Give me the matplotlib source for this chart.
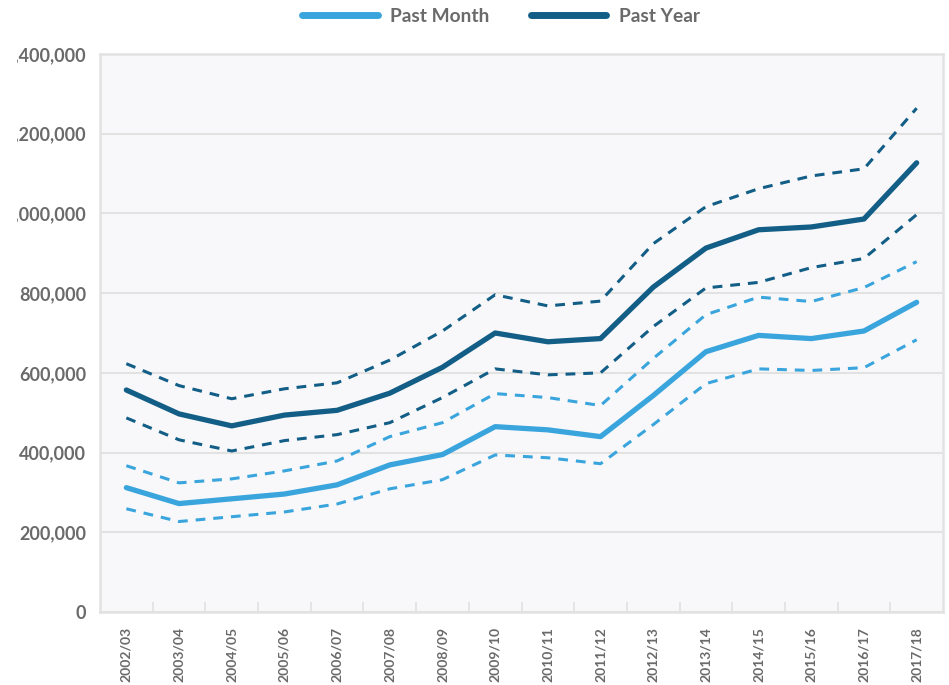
import matplotlib
matplotlib.use("Agg")
import matplotlib.pyplot as plt
from matplotlib.lines import Line2D
from matplotlib.ticker import FuncFormatter, FixedLocator
from matplotlib.transforms import Bbox, TransformedBbox
import numpy as np

years = ["2002/03", "2003/04", "2004/05", "2005/06", "2006/07", "2007/08", "2008/09",
         "2009/10", "2010/11", "2011/12", "2012/13", "2013/14", "2014/15", "2015/16",
         "2016/17", "2017/18"]

past_year = [557000, 497000, 467000, 494000, 506000, 549000, 614000, 700000, 678000,
             686000, 815000, 913000, 959000, 966000, 986000, 1127000]
past_year_upper = [623000, 568000, 535000, 560000, 575000, 632000, 705000, 796000, 768000,
                   780000, 924000, 1017000, 1062000, 1094000, 1112000, 1264000]
past_year_lower = [487000, 432000, 404000, 430000, 445000, 475000, 538000, 610000, 595000,
                   600000, 716000, 813000, 827000, 864000, 887000, 997000]

past_month = [312000, 272000, 284000, 296000, 319000, 369000, 395000, 465000, 457000,
              440000, 543000, 653000, 694000, 686000, 705000, 777000]
past_month_upper = [367000, 324000, 334000, 354000, 379000, 440000, 475000, 548000, 538000,
                    518000, 636000, 746000, 790000, 779000, 814000, 879000]
past_month_lower = [259000, 227000, 239000, 251000, 271000, 309000, 332000, 394000, 387000,
                    372000, 470000, 573000, 610000, 606000, 613000, 683000]

y_ticks = [0, 200000, 400000, 600000, 800000, 1000000, 1200000, 1400000]

light = "#3aa5dd"
dark = "#135e86"
grid_c = "#e2e2e2"
text_c = "#6a6a6a"
font = ["Lato", "DejaVu Sans"]

plt.rcParams["font.family"] = font

fig = plt.figure(figsize=(9.49, 6.85), dpi=100)
ax = fig.add_axes([100 / 949, 1 - 612 / 685, 843 / 949, (612 - 54) / 685])
ax.set_facecolor("#f8f8fa")

x = np.arange(len(years))

ax.plot(x, past_month_upper, color=light, lw=2.2, ls=(0, (3.2, 2.6)), zorder=3)
ax.plot(x, past_month_lower, color=light, lw=2.2, ls=(0, (3.2, 2.6)), zorder=3)
ax.plot(x, past_year_upper, color=dark, lw=2.2, ls=(0, (3.2, 2.6)), zorder=3)
ax.plot(x, past_year_lower, color=dark, lw=2.2, ls=(0, (3.2, 2.6)), zorder=3)
ax.plot(x, past_month, color=light, lw=3.8, solid_capstyle="round", solid_joinstyle="round", zorder=4)
ax.plot(x, past_year, color=dark, lw=3.8, solid_capstyle="round", solid_joinstyle="round", zorder=4)

ax.set_xlim(-0.5, len(years) - 0.5)
ax.set_ylim(0, 1400000)

ax.set_yticks(y_ticks)
ax.yaxis.set_major_formatter(FuncFormatter(lambda v, p: f"{int(v):,}"))
ax.set_xticks(x)
ax.set_xticklabels(years, rotation=90)
ax.xaxis.set_minor_locator(FixedLocator(np.arange(0.5, len(years) - 0.5, 1)))

ax.tick_params(axis="x", which="major", length=0, pad=11, labelsize=10, labelcolor=text_c)
ax.tick_params(axis="x", which="minor", direction="in", length=7.5, width=1.3, color=grid_c)
ax.tick_params(axis="y", which="major", length=0, pad=10, labelsize=13.0, labelcolor=text_c)

clip = TransformedBbox(Bbox([[16.5 / 949, 0], [1, 1]]), fig.transFigure)
for lab in ax.get_xticklabels():
    lab.set_fontweight("bold")
for lab in ax.get_yticklabels():
    lab.set_fontweight("bold")
    lab.set_clip_box(clip)
    lab.set_clip_on(True)

ax.grid(axis="y", color=grid_c, lw=1.5, zorder=0)
ax.set_axisbelow(True)
for s in ax.spines.values():
    s.set_color(grid_c)
    s.set_linewidth(1.8)

handles = [Line2D([], [], color=light, lw=5, solid_capstyle="round"),
           Line2D([], [], color=dark, lw=5, solid_capstyle="round")]
leg = fig.legend(handles, ["Past Month", "Past Year"], loc="center",
                 bbox_to_anchor=(501 / 949, 1 - 16 / 685), ncol=2, frameon=False,
                 handlelength=3.93, handletextpad=0.64, columnspacing=2.17,
                 prop={"family": font, "weight": "bold", "size": 13.8})
for t in leg.get_texts():
    t.set_color(text_c)

fig.savefig("out.png", dpi=100)
